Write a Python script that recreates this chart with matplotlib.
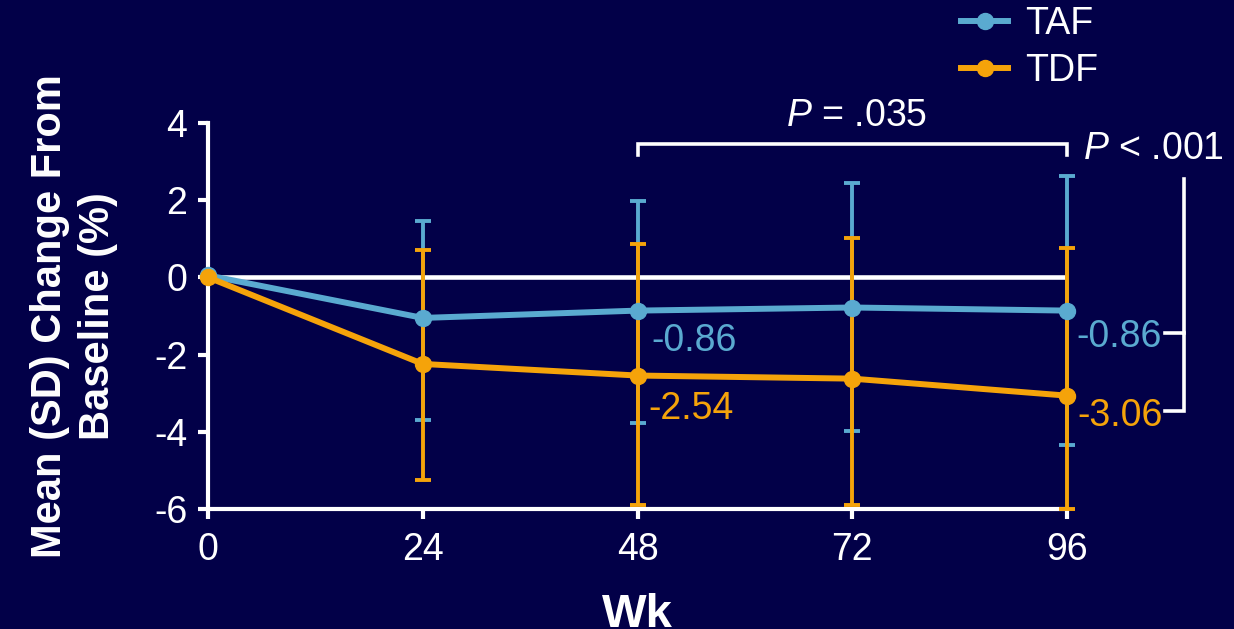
import numpy as np
import matplotlib.pyplot as plt

plt.rcParams['font.family'] = ['Liberation Sans', 'DejaVu Sans']
plt.rcParams['mathtext.fontset'] = 'custom'
plt.rcParams['mathtext.it'] = 'Liberation Sans:italic'
plt.rcParams['mathtext.rm'] = 'Liberation Sans'

#--- data: mean change from baseline with SD range
weeks = np.array([0, 24, 48, 72, 96])
taf_mean = np.array([0.05, -1.05, -0.86, -0.78, -0.86])
tdf_mean = np.array([0.0, -2.24, -2.54, -2.62, -3.06])
taf_upper = np.array([1.47, 1.98, 2.43, 2.61])
taf_lower = np.array([-3.68, -3.78, -3.98, -4.33])
tdf_upper = np.array([0.72, 0.85, 1.03, 0.77])
tdf_lower = np.array([-5.24, -5.89, -5.90, -6.00])

xticks = [0, 24, 48, 72, 96]
yticks = [-6, -4, -2, 0, 2, 4]

bg = '#020048'
blue = '#5aaad0'
orange = '#f5a30a'
white = 'white'

fig = plt.figure(figsize=(12.34, 6.29), dpi=100, facecolor=bg)
ax = fig.add_axes([0.1686, 0.1903, 0.6961, 0.6146], facecolor=bg)

ax.axhline(0, color=white, lw=3.3, zorder=1)

#--- SD bars (no bar at baseline)
ax.errorbar(weeks[1:], taf_mean[1:],
            yerr=[taf_mean[1:] - taf_lower, taf_upper - taf_mean[1:]],
            fmt='none', ecolor=blue, elinewidth=2.8, capsize=5.5, capthick=2.8,
            zorder=2, clip_on=False)
ax.errorbar(weeks[1:], tdf_mean[1:],
            yerr=[tdf_mean[1:] - tdf_lower, tdf_upper - tdf_mean[1:]],
            fmt='none', ecolor=orange, elinewidth=2.8, capsize=5.5, capthick=2.8,
            zorder=3, clip_on=False)

ax.plot(weeks, taf_mean, '-o', color=blue, lw=4.3, ms=11.5, label='TAF',
        zorder=4, clip_on=False)
ax.plot(weeks, tdf_mean, '-o', color=orange, lw=4.3, ms=11.5, label='TDF',
        zorder=5, clip_on=False)

ax.set_xlim(0, 96)
ax.set_ylim(-6, 4)
ax.set_xticks(xticks)
ax.set_yticks(yticks)
ax.set_yticklabels([str(t) for t in yticks])

for side in ['top', 'right']:
    ax.spines[side].set_visible(False)
for side in ['left', 'bottom']:
    ax.spines[side].set_color(white)
    ax.spines[side].set_linewidth(3)
ax.tick_params(axis='both', colors=white, width=3, length=7, labelsize=27)
ax.tick_params(axis='x', pad=9)
ax.tick_params(axis='y', pad=8)

ax.set_xlabel('Wk', color=white, fontsize=34, fontweight='bold', labelpad=18)
ax.set_ylabel('Mean (SD) Change From\nBaseline (%)', color=white, fontsize=30,
              fontweight='bold', labelpad=26, linespacing=1.25)

#--- value labels at wk 48 and 96
ax.text(49.5, -1.64, '-0.86', color=blue, fontsize=27, va='center', ha='left')
ax.text(49.2, -3.40, '-2.54', color=orange, fontsize=27, va='center', ha='left')
ax.text(97.0, -1.55, '-0.86', color=blue, fontsize=27, va='center', ha='left',
        clip_on=False)
ax.text(97.2, -3.58, '-3.06', color=orange, fontsize=27, va='center', ha='left',
        clip_on=False)

#--- significance brackets
ax.plot([48, 48, 96, 96], [3.17, 3.45, 3.45, 3.17], color=white, lw=2.6,
        clip_on=False, solid_joinstyle='miter')
ax.text(72.5, 4.18, r'$P$ = .035', color=white, fontsize=27, ha='center',
        va='center', clip_on=False)
ax.plot([106.9, 109.1, 109.1, 106.9], [-1.44, -1.44, -3.47, -3.47],
        color=white, lw=2.6, clip_on=False, solid_joinstyle='miter')
ax.plot([109.1, 109.1], [-1.44, 2.55], color=white, lw=2.6, clip_on=False)
ax.text(97.8, 3.31, r'$P$ < .001', color=white, fontsize=27, ha='left',
        va='center', clip_on=False)

leg = ax.legend(loc='upper left', bbox_to_anchor=(0.779, 0.99),
                bbox_transform=fig.transFigure, frameon=False, fontsize=27,
                handlelength=1.25, handletextpad=0.45, labelspacing=0.28,
                borderpad=0, borderaxespad=0)
for t in leg.get_texts():
    t.set_color(white)

fig.savefig('out.png', dpi=100, facecolor=bg)
